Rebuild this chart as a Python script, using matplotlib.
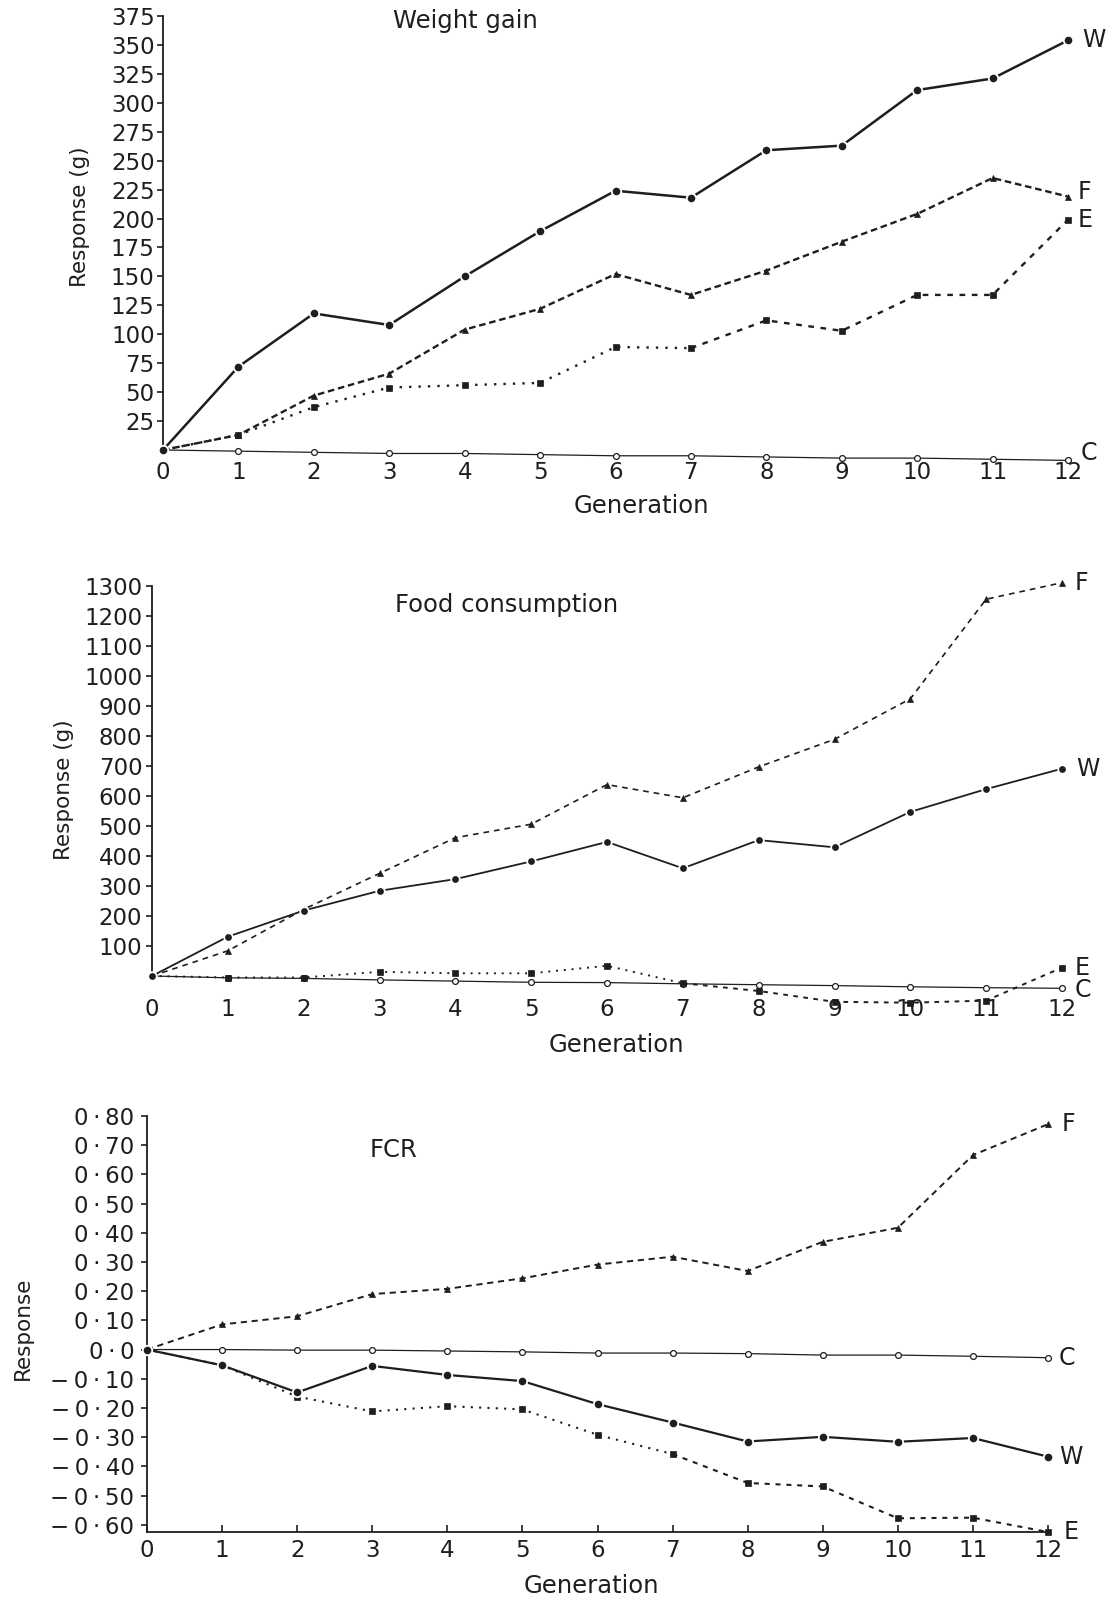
import matplotlib
matplotlib.use("Agg")
import matplotlib.pyplot as plt

plt.rcParams['font.family'] = ['DejaVu Sans']

generations = list(range(13))
gen_labels = [str(g) for g in generations]

# Weight gain response (g) by line
wg_W = [0, 72, 118, 108, 150, 189, 224, 218, 259, 263, 311, 321, 354]
wg_F = [0, 13, 47, 66, 104, 122, 152, 134, 155, 180, 204, 235, 219]
wg_E = [0, 13, 37, 54, 56, 58, 89, 88, 112, 103, 134, 134, 199]
wg_C = [0, -1, -2, -3, -3, -4, -5, -5, -6, -7, -7, -8, -9]
wg_ticks = [25, 50, 75, 100, 125, 150, 175, 200, 225, 250, 275, 300, 325, 350, 375]

# Food consumption response (g) by line
fc_W = [0, 131, 218, 284, 323, 382, 447, 359, 453, 429, 547, 623, 691]
fc_F = [0, 84, 222, 342, 461, 506, 638, 594, 697, 789, 924, 1256, 1311]
fc_E = [0, -5, -5, 14, 9, 9, 34, -24, -50, -86, -89, -82, 28]
fc_C = [0, -6, -8, -13, -17, -21, -22, -26, -29, -32, -36, -39, -41]
fc_ticks = [100, 200, 300, 400, 500, 600, 700, 800, 900, 1000, 1100, 1200, 1300]

# Food conversion ratio response by line
fcr_W = [0, -0.054, -0.147, -0.056, -0.087, -0.108, -0.187, -0.250, -0.315, -0.299, -0.316, -0.303, -0.367]
fcr_F = [0, 0.086, 0.114, 0.190, 0.208, 0.244, 0.291, 0.318, 0.269, 0.369, 0.417, 0.666, 0.772]
fcr_E = [0, -0.054, -0.161, -0.212, -0.194, -0.205, -0.292, -0.358, -0.457, -0.469, -0.578, -0.576, -0.625]
fcr_C = [0, 0, -0.002, -0.002, -0.005, -0.008, -0.012, -0.012, -0.014, -0.019, -0.019, -0.023, -0.028]
fcr_ticks = [0.8, 0.7, 0.6, 0.5, 0.4, 0.3, 0.2, 0.1, 0.0, -0.1, -0.2, -0.3, -0.4, -0.5, -0.6]
fcr_tick_labels = ['0\u2009\u00b7\u200980', '0\u2009\u00b7\u200970', '0\u2009\u00b7\u200960',
                   '0\u2009\u00b7\u200950', '0\u2009\u00b7\u200940', '0\u2009\u00b7\u200930',
                   '0\u2009\u00b7\u200920', '0\u2009\u00b7\u200910', '0\u2009\u00b7\u20090',
                   '\u2212\u20090\u2009\u00b7\u200910', '\u2212\u20090\u2009\u00b7\u200920',
                   '\u2212\u20090\u2009\u00b7\u200930', '\u2212\u20090\u2009\u00b7\u200940',
                   '\u2212\u20090\u2009\u00b7\u200950', '\u2212\u20090\u2009\u00b7\u200960']

INK = '#1e1e1e'
FIG_W, FIG_H = 1120, 1600
FS = 16.5      # tick labels
FS_T = 17.5    # panel titles and x-axis titles
FS_Y = 15.5    # y-axis titles

fig = plt.figure(figsize=(FIG_W / 100, FIG_H / 100), dpi=100)
fig.patch.set_facecolor('white')


def axes_px(x0, x1, y_top, y_bot):
    return fig.add_axes([x0 / FIG_W, 1 - y_bot / FIG_H,
                         (x1 - x0) / FIG_W, (y_bot - y_top) / FIG_H])


def text_px(x, y, s, **kw):
    fig.text(x / FIG_W, 1 - y / FIG_H, s, color=INK, **kw)


def draw_series(ax, W, F, E, C, w_lw, f_lw, f_dash, e_lw, w_ms):
    x = generations
    # control line
    ax.plot(x, C, '-', color=INK, lw=0.9, marker='o', ms=4.2, mfc='white',
            mec=INK, mew=0.9, clip_on=False, zorder=3)
    # line F (dashed, triangles)
    ax.plot(x, F, color=INK, lw=f_lw, ls=(0, f_dash), dash_capstyle='butt',
            clip_on=False, zorder=4)
    ax.plot(x, F, ls='none', marker='^', ms=5.0, mfc=INK, mec=INK, mew=0.5,
            clip_on=False, zorder=5)
    # line E: dotted for the early generations, dashed afterwards
    ax.plot(x[:8], E[:8], color=INK, lw=e_lw, ls=(0, (1, 3)),
            clip_on=False, zorder=4)
    ax.plot(x[7:], E[7:], color=INK, lw=e_lw, ls=(0, (2.4, 2.8)),
            dash_capstyle='butt', clip_on=False, zorder=4)
    ax.plot(x, E, ls='none', marker='s', ms=4.3, mfc=INK, mec=INK,
            mew=0.5, clip_on=False, zorder=5)
    # line W (solid, circles)
    ax.plot(x, W, '-', color=INK, lw=w_lw, marker='o', ms=w_ms, mfc=INK,
            mec='white', mew=1.3, clip_on=False, zorder=6)


def end_label(ax, s, yval, dy=0.0, dx=7.0):
    ax.annotate(s, xy=(12, yval), xytext=(dx, dy), textcoords='offset points',
                ha='left', va='center', fontsize=17, color=INK,
                annotation_clip=False)


def style_axes(ax, show_bottom):
    for side in ('top', 'right'):
        ax.spines[side].set_visible(False)
    ax.spines['bottom'].set_visible(show_bottom)
    for side in ('left', 'bottom'):
        ax.spines[side].set_color(INK)
        ax.spines[side].set_linewidth(1.3)
    ax.set_facecolor('none')
    ax.set_xlim(0, 12)
    ax.set_xticks(generations)
    ax.set_xticklabels(gen_labels)
    ax.tick_params(colors=INK, labelsize=FS)


# ---------------- Weight gain ----------------
ax1 = axes_px(163, 1068, 16, 450)
style_axes(ax1, show_bottom=False)
ax1.set_ylim(0, 375)
ax1.set_yticks(wg_ticks)
ax1.tick_params(axis='y', direction='out', length=4, width=1.2, pad=2)
ax1.tick_params(axis='x', length=0, pad=8)
draw_series(ax1, wg_W, wg_F, wg_E, wg_C, w_lw=1.8, f_lw=1.7,
            f_dash=(2.8, 1.6), e_lw=1.7, w_ms=6.8)
end_label(ax1, 'W', wg_W[-1], dx=10)
end_label(ax1, 'F', wg_F[-1], dy=3.5)
end_label(ax1, 'E', wg_E[-1])
end_label(ax1, 'C', wg_C[-1], dx=9, dy=5)

# ---------------- Food consumption ----------------
ax2 = axes_px(152, 1062, 586, 976)
style_axes(ax2, show_bottom=False)
ax2.set_ylim(0, 1300)
ax2.set_yticks(fc_ticks)
ax2.tick_params(axis='y', direction='out', length=4, width=1.2, pad=3)
ax2.tick_params(axis='x', length=0, pad=16)
draw_series(ax2, fc_W, fc_F, fc_E, fc_C, w_lw=1.3, f_lw=1.2,
            f_dash=(3.4, 3.0), e_lw=1.4, w_ms=6.2)
end_label(ax2, 'F', fc_F[-1], dx=9)
end_label(ax2, 'W', fc_W[-1], dx=10)
end_label(ax2, 'E', fc_E[-1], dx=9)
end_label(ax2, 'C', fc_C[-1], dx=9, dy=-1)

# ---------------- FCR ----------------
ax3 = axes_px(147, 1048, 1116, 1532)
style_axes(ax3, show_bottom=True)
ax3.set_ylim(-0.625, 0.8)
ax3.set_yticks(fcr_ticks)
ax3.set_yticklabels(fcr_tick_labels)
ax3.tick_params(axis='y', direction='out', length=4, width=1.2, pad=5)
ax3.tick_params(axis='x', direction='in', length=5, width=1.2, pad=5)
draw_series(ax3, fcr_W, fcr_F, fcr_E, fcr_C, w_lw=1.6, f_lw=1.4,
            f_dash=(3.2, 2.4), e_lw=1.5, w_ms=6.8)
end_label(ax3, 'F', fcr_F[-1], dx=10)
end_label(ax3, 'C', fcr_C[-1], dx=8)
end_label(ax3, 'W', fcr_W[-1], dx=8)
end_label(ax3, 'E', fcr_E[-1], dx=11, dy=0)

# panel titles, x-axis titles and y-axis titles
text_px(393, 21, 'Weight gain', fontsize=FS_T, ha='left', va='center')
text_px(395, 605, 'Food consumption', fontsize=FS_T, ha='left', va='center')
text_px(370, 1150, 'FCR', fontsize=FS_T, ha='left', va='center')
text_px(641, 506, 'Generation', fontsize=FS_T, ha='center', va='center')
text_px(616, 1045, 'Generation', fontsize=FS_T, ha='center', va='center')
text_px(591, 1586, 'Generation', fontsize=FS_T, ha='center', va='center')
text_px(80, 217, 'Response (g)', fontsize=FS_Y, rotation=90, ha='center', va='center')
text_px(64, 790, 'Response (g)', fontsize=FS_Y, rotation=90, ha='center', va='center')
text_px(23, 1328, 'Response', fontsize=FS_Y, rotation=90, ha='center', va='center')

fig.savefig('out.png', dpi=100, facecolor='white')
